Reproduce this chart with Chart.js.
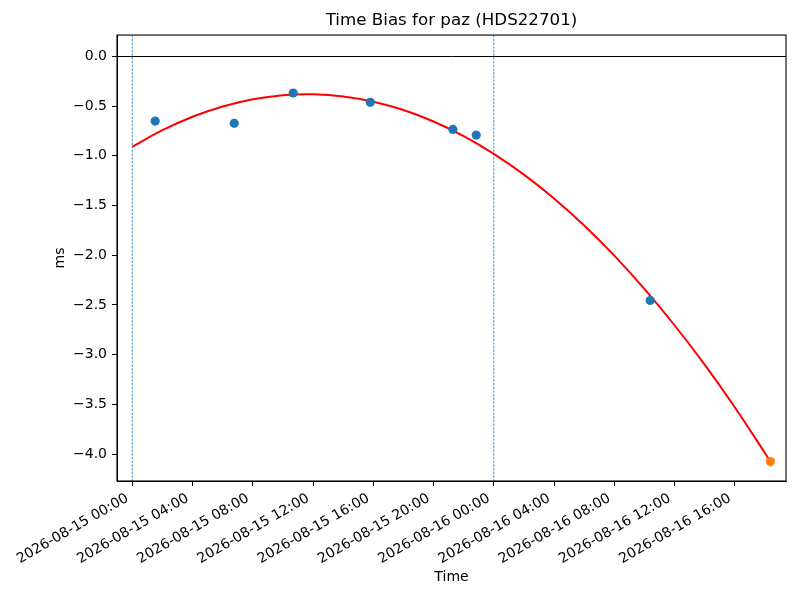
<!DOCTYPE html>
<html>
<head>
<meta charset="utf-8">
<title>Time Bias for paz (HDS22701)</title>
<script src="https://cdn.jsdelivr.net/npm/chart.js@4.4.1/dist/chart.umd.min.js"></script>
<style>
  html, body { margin: 0; padding: 0; background: #fff; }
</style>
</head>
<body>
<canvas id="biasChart" width="800" height="600"></canvas>
<script>
// measured time bias (ms)
var measTimes = ['2026-08-15 01:31', '2026-08-15 06:46', '2026-08-15 10:41', '2026-08-15 15:48',
                 '2026-08-15 21:17', '2026-08-15 22:50', '2026-08-16 10:23'];
var measBias = [-0.651, -0.674, -0.369, -0.463, -0.735, -0.792, -2.455];

// predicted point (end of fit)
var predTimes = ['2026-08-16 18:22'];
var predBias = [-4.075];

// red fitted curve, read every 2 hours
var fitTimes = ['2026-08-15 00:00', '2026-08-15 02:00', '2026-08-15 04:00', '2026-08-15 06:00',
                '2026-08-15 08:00', '2026-08-15 10:00', '2026-08-15 12:00', '2026-08-15 14:00',
                '2026-08-15 16:00', '2026-08-15 18:00', '2026-08-15 20:00', '2026-08-15 22:00',
                '2026-08-16 00:00', '2026-08-16 02:00', '2026-08-16 04:00', '2026-08-16 06:00',
                '2026-08-16 08:00', '2026-08-16 10:00', '2026-08-16 12:00', '2026-08-16 14:00',
                '2026-08-16 16:00', '2026-08-16 18:00', '2026-08-16 18:22'];
var fitBias = [-0.909, -0.743, -0.608, -0.505, -0.432, -0.391, -0.382, -0.403,
               -0.456, -0.540, -0.655, -0.802, -0.980, -1.189, -1.429, -1.701,
               -2.004, -2.338, -2.704, -3.100, -3.528, -3.988, -4.074];

var xTickLabels = ['2026-08-15 00:00', '2026-08-15 04:00', '2026-08-15 08:00', '2026-08-15 12:00',
                   '2026-08-15 16:00', '2026-08-15 20:00', '2026-08-16 00:00', '2026-08-16 04:00',
                   '2026-08-16 08:00', '2026-08-16 12:00', '2026-08-16 16:00'];
var yTickValues = [0.0, -0.5, -1.0, -1.5, -2.0, -2.5, -3.0, -3.5, -4.0];
var dayLines = ['2026-08-15 00:00', '2026-08-16 00:00'];
var xRange = ['2026-08-14 22:59', '2026-08-16 19:24'];
var yRange = [-4.27, 0.214];

var FONT = 'DejaVu Sans';
var base = Date.UTC(2026, 7, 15, 0, 0);

// "YYYY-MM-DD HH:MM" -> hours since 2026-08-15 00:00
function hours(s) {
  var d = s.split(' ')[0].split('-'), t = s.split(' ')[1].split(':');
  return (Date.UTC(+d[0], +d[1] - 1, +d[2], +t[0], +t[1]) - base) / 3600000;
}
function pts(times, vals) {
  return times.map(function (t, i) { return { x: hours(t), y: vals[i] }; });
}

var extras = {
  id: 'extras',
  beforeDatasetsDraw: function (chart) {
    var c = chart.ctx, a = chart.chartArea, xs = chart.scales.x, ys = chart.scales.y;
    c.save();
    // zero line
    var y0 = Math.round(ys.getPixelForValue(0)) + 0.5;
    c.strokeStyle = '#000';
    c.lineWidth = 1;
    c.beginPath(); c.moveTo(a.left, y0); c.lineTo(a.right, y0); c.stroke();
    // day boundaries
    c.strokeStyle = '#1f77b4';
    c.lineWidth = 0.8;
    c.setLineDash([2.5, 1.2]);
    dayLines.forEach(function (d) {
      var x = xs.getPixelForValue(hours(d));
      c.beginPath(); c.moveTo(x, a.top); c.lineTo(x, a.bottom); c.stroke();
    });
    c.restore();
  },
  afterDraw: function (chart) {
    var c = chart.ctx, a = chart.chartArea;
    c.save();
    c.strokeStyle = '#000';
    c.lineWidth = 1.1;
    c.strokeRect(a.left, a.top, a.right - a.left, a.bottom - a.top);
    c.restore();
  }
};

var ctx = document.getElementById('biasChart');
var biasChart = new Chart(ctx, {
  type: 'scatter',
  data: {
    datasets: [
      { label: 'measured', data: pts(measTimes, measBias), backgroundColor: '#1f77b4',
        pointRadius: 4.6, borderWidth: 0, order: 1 },
      { label: 'predicted', data: pts(predTimes, predBias), backgroundColor: '#ff7f0e',
        pointRadius: 4.6, borderWidth: 0, order: 1 },
      { label: 'fit', type: 'line', data: pts(fitTimes, fitBias), borderColor: '#ff0000',
        borderWidth: 2, pointRadius: 0, tension: 0.4, fill: false, order: 2 }
    ]
  },
  options: {
    responsive: false,
    animation: false,
    layout: { padding: { right: 14 } },
    plugins: {
      legend: { display: false },
      tooltip: { enabled: false },
      title: {
        display: true, text: 'Time Bias for paz (HDS22701)', fullSize: false, color: '#000',
        font: { family: FONT, size: 16.7, weight: 'normal' }, padding: { top: 11, bottom: 4 }
      }
    },
    scales: {
      x: {
        type: 'linear', position: 'bottom',
        min: hours(xRange[0]), max: hours(xRange[1]),
        grid: { drawOnChartArea: false, drawTicks: true, tickLength: 5, color: '#000' },
        border: { display: true, color: '#000' },
        ticks: {
          autoSkip: false, minRotation: 30, maxRotation: 30, padding: 4, labelOffset: -5,
          color: '#000', font: { family: FONT, size: 14 },
          callback: function (v, i) { return xTickLabels[i]; }
        },
        title: { display: true, text: 'Time', color: '#000', font: { family: FONT, size: 14 },
                 padding: { top: 14.6, bottom: 14.6 } },
        afterBuildTicks: function (s) {
          s.ticks = xTickLabels.map(function (l) { return { value: hours(l) }; });
        },
        afterFit: function (s) { s.height = 119; }
      },
      y: {
        min: yRange[0], max: yRange[1],
        grid: { drawOnChartArea: false, drawTicks: true, tickLength: 5, color: '#000' },
        border: { display: true, color: '#000' },
        ticks: {
          autoSkip: false, padding: 5, color: '#000', font: { family: FONT, size: 14 },
          callback: function (v) { return v.toFixed(1).replace('-', '\u2212'); }
        },
        title: { display: true, text: 'ms', color: '#000', font: { family: FONT, size: 14 },
                 padding: { top: 51.6, bottom: 51.6 } },
        afterBuildTicks: function (s) {
          s.ticks = yTickValues.map(function (v) { return { value: v }; });
        },
        afterFit: function (s) { s.width = 117; }
      }
    }
  },
  plugins: [extras]
});
</script>
</body>
</html>
